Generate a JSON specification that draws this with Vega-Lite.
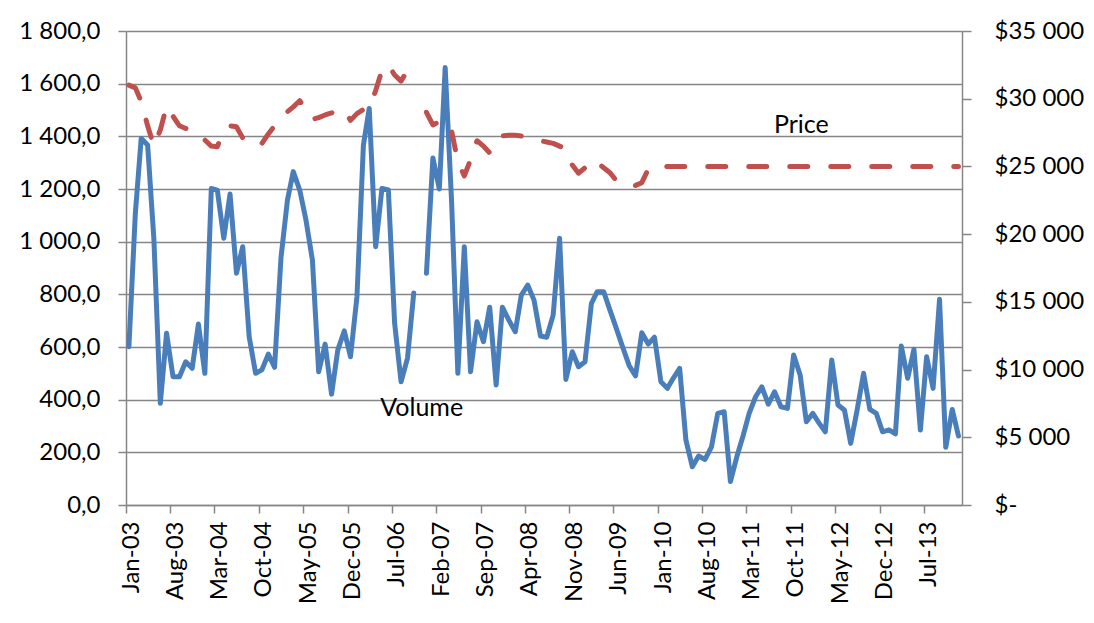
{
  "$schema": "https://vega.github.io/schema/vega-lite/v6.json",
  "width": 836,
  "height": 474,
  "autosize": {"type": "none"},
  "padding": {"left": 126, "top": 31, "right": 132, "bottom": 118},
  "background": "white",
  "config": {
    "locale": {"number": {"decimal": ",", "thousands": " ", "grouping": [3], "currency": ["$", ""]}},
    "view": {"stroke": null},
    "font": "Lato",
    "axis": {
      "labelFont": "Lato", "labelFontSize": 24, "labelColor": "#000000",
      "domainColor": "#868686", "tickColor": "#868686", "gridColor": "#868686",
      "domainWidth": 1.5, "tickWidth": 1.5, "gridWidth": 1.5, "title": null
    }
  },
  "datasets": {
    "m": [
      {"d":"2003-01-15","volume":601,"price":31000},{"d":"2003-02-15","volume":1109,"price":30800},{"d":"2003-03-15","volume":1392,"price":29800},{"d":"2003-04-15","volume":1367,"price":28000},{"d":"2003-05-15","volume":1010,"price":26500},{"d":"2003-06-15","volume":386,"price":27700},{"d":"2003-07-15","volume":652,"price":29460},{"d":"2003-08-15","volume":487,"price":28700},{"d":"2003-09-15","volume":487,"price":28000},{"d":"2003-10-15","volume":544,"price":27800},{"d":"2003-11-15","volume":519,"price":27700},{"d":"2003-12-15","volume":687,"price":27400},
      {"d":"2004-01-15","volume":500,"price":26950},{"d":"2004-02-15","volume":1202,"price":26500},{"d":"2004-03-15","volume":1196,"price":26460},{"d":"2004-04-15","volume":1013,"price":27690},{"d":"2004-05-15","volume":1181,"price":28000},{"d":"2004-06-15","volume":880,"price":27934},{"d":"2004-07-15","volume":981,"price":27100},{"d":"2004-08-15","volume":639,"price":26600},{"d":"2004-09-15","volume":500,"price":26700},{"d":"2004-10-15","volume":513,"price":26700},{"d":"2004-11-15","volume":573,"price":27400},{"d":"2004-12-15","volume":523,"price":28000},
      {"d":"2005-01-15","volume":940,"price":28600},{"d":"2005-02-15","volume":1158,"price":29043},{"d":"2005-03-15","volume":1266,"price":29400},{"d":"2005-04-15","volume":1196,"price":29850},{"d":"2005-05-15","volume":1082,"price":29200},{"d":"2005-06-15","volume":930,"price":28480},{"d":"2005-07-15","volume":506,"price":28600},{"d":"2005-08-15","volume":611,"price":28800},{"d":"2005-09-15","volume":421,"price":28950},{"d":"2005-10-15","volume":589,"price":29100},{"d":"2005-11-15","volume":661,"price":29200},{"d":"2005-12-15","volume":563,"price":28400},
      {"d":"2006-01-15","volume":791,"price":28900},{"d":"2006-02-15","volume":1367,"price":29200},{"d":"2006-03-15","volume":1506,"price":29300},{"d":"2006-04-15","volume":981,"price":30600},{"d":"2006-05-15","volume":1202,"price":32100},{"d":"2006-06-15","volume":1196,"price":32500},{"d":"2006-07-15","volume":691,"price":31750},{"d":"2006-08-15","volume":468,"price":31300},{"d":"2006-09-15","volume":558,"price":32100},{"d":"2006-10-15","volume":805,"price":33000},{"d":"2006-11-15","volume":null,"price":null},{"d":"2006-12-15","volume":880,"price":29000},
      {"d":"2007-01-15","volume":1318,"price":28060},{"d":"2007-02-15","volume":1200,"price":28300},{"d":"2007-03-15","volume":1661,"price":28400},{"d":"2007-04-15","volume":1150,"price":27600},{"d":"2007-05-15","volume":500,"price":25350},{"d":"2007-06-15","volume":981,"price":24300},{"d":"2007-07-15","volume":506,"price":25500},{"d":"2007-08-15","volume":696,"price":26900},{"d":"2007-09-15","volume":620,"price":26500},{"d":"2007-10-15","volume":751,"price":26000},{"d":"2007-11-15","volume":456,"price":26700},{"d":"2007-12-15","volume":751,"price":27250},
      {"d":"2008-01-15","volume":702,"price":27300},{"d":"2008-02-15","volume":658,"price":27300},{"d":"2008-03-15","volume":797,"price":27250},{"d":"2008-04-15","volume":835,"price":27100},{"d":"2008-05-15","volume":778,"price":27000},{"d":"2008-06-15","volume":642,"price":26900},{"d":"2008-07-15","volume":637,"price":26800},{"d":"2008-08-15","volume":721,"price":26700},{"d":"2008-09-15","volume":1013,"price":26500},{"d":"2008-10-15","volume":477,"price":26300},{"d":"2008-11-15","volume":582,"price":25100},{"d":"2008-12-15","volume":525,"price":24500},
      {"d":"2009-01-15","volume":544,"price":24900},{"d":"2009-02-15","volume":766,"price":25480},{"d":"2009-03-15","volume":810,"price":25300},{"d":"2009-04-15","volume":810,"price":24900},{"d":"2009-05-15","volume":740,"price":24540},{"d":"2009-06-15","volume":670,"price":23950},{"d":"2009-07-15","volume":600,"price":24000},{"d":"2009-08-15","volume":530,"price":23800},{"d":"2009-09-15","volume":490,"price":23600},{"d":"2009-10-15","volume":654,"price":23800},{"d":"2009-11-15","volume":611,"price":24800},{"d":"2009-12-15","volume":637,"price":25000},
      {"d":"2010-01-15","volume":468,"price":25000},{"d":"2010-02-15","volume":443,"price":25000},{"d":"2010-03-15","volume":481,"price":25000},{"d":"2010-04-15","volume":519,"price":25000},{"d":"2010-05-15","volume":247,"price":25000},{"d":"2010-06-15","volume":145,"price":25000},{"d":"2010-07-15","volume":186,"price":25000},{"d":"2010-08-15","volume":173,"price":25000},{"d":"2010-09-15","volume":221,"price":25000},{"d":"2010-10-15","volume":348,"price":25000},{"d":"2010-11-15","volume":354,"price":25000},{"d":"2010-12-15","volume":89,"price":25000},
      {"d":"2011-01-15","volume":184,"price":25000},{"d":"2011-02-15","volume":266,"price":25000},{"d":"2011-03-15","volume":348,"price":25000},{"d":"2011-04-15","volume":411,"price":25000},{"d":"2011-05-15","volume":449,"price":25000},{"d":"2011-06-15","volume":383,"price":25000},{"d":"2011-07-15","volume":430,"price":25000},{"d":"2011-08-15","volume":373,"price":25000},{"d":"2011-09-15","volume":367,"price":25000},{"d":"2011-10-15","volume":570,"price":25000},{"d":"2011-11-15","volume":494,"price":25000},{"d":"2011-12-15","volume":316,"price":25000},
      {"d":"2012-01-15","volume":348,"price":25000},{"d":"2012-02-15","volume":310,"price":25000},{"d":"2012-03-15","volume":278,"price":25000},{"d":"2012-04-15","volume":551,"price":25000},{"d":"2012-05-15","volume":380,"price":25000},{"d":"2012-06-15","volume":361,"price":25000},{"d":"2012-07-15","volume":234,"price":25000},{"d":"2012-08-15","volume":361,"price":25000},{"d":"2012-09-15","volume":500,"price":25000},{"d":"2012-10-15","volume":363,"price":25000},{"d":"2012-11-15","volume":348,"price":25000},{"d":"2012-12-15","volume":278,"price":25000},
      {"d":"2013-01-15","volume":285,"price":25000},{"d":"2013-02-15","volume":270,"price":25000},{"d":"2013-03-15","volume":604,"price":25000},{"d":"2013-04-15","volume":481,"price":25000},{"d":"2013-05-15","volume":591,"price":25000},{"d":"2013-06-15","volume":285,"price":25000},{"d":"2013-07-15","volume":563,"price":25000},{"d":"2013-08-15","volume":443,"price":25000},{"d":"2013-09-15","volume":781,"price":25000},{"d":"2013-10-15","volume":219,"price":25000},{"d":"2013-11-15","volume":363,"price":25000},{"d":"2013-12-15","volume":262,"price":25000}
    ],
    "notes": [
      {"d":"2011-11-21","v":1414,"label":"Price"},
      {"d":"2006-11-22","v":339,"label":"Volume"}
    ]
  },
  "layer": [
    {
      "data": {"name": "m"},
      "mark": {"type": "line", "color": "#4A7EBB", "strokeWidth": 5, "strokeJoin": "round", "strokeCap": "round", "invalid": "break-paths-show-domains"},
      "encoding": {
        "x": {
          "field": "d", "type": "temporal",
          "scale": {"type": "utc", "domain": [{"year": 2003, "month": 1, "date": 1, "utc": true}, {"year": 2014, "month": 1, "date": 1, "utc": true}]},
          "axis": {
            "labelExpr": "utcFormat(datum.value, '%b-%y')", "labelAngle": 270, "labelAlign": "right", "labelBaseline": "middle",
            "labelOffset": 5, "tickSize": 8, "labelPadding": 8, "grid": false, "labelFontSize": 24,
            "values": [
              {"year": 2003, "month": 1, "date": 1, "utc": true},
              {"year": 2003, "month": 8, "date": 1, "utc": true},
              {"year": 2004, "month": 3, "date": 1, "utc": true},
              {"year": 2004, "month": 10, "date": 1, "utc": true},
              {"year": 2005, "month": 5, "date": 1, "utc": true},
              {"year": 2005, "month": 12, "date": 1, "utc": true},
              {"year": 2006, "month": 7, "date": 1, "utc": true},
              {"year": 2007, "month": 2, "date": 1, "utc": true},
              {"year": 2007, "month": 9, "date": 1, "utc": true},
              {"year": 2008, "month": 4, "date": 1, "utc": true},
              {"year": 2008, "month": 11, "date": 1, "utc": true},
              {"year": 2009, "month": 6, "date": 1, "utc": true},
              {"year": 2010, "month": 1, "date": 1, "utc": true},
              {"year": 2010, "month": 8, "date": 1, "utc": true},
              {"year": 2011, "month": 3, "date": 1, "utc": true},
              {"year": 2011, "month": 10, "date": 1, "utc": true},
              {"year": 2012, "month": 5, "date": 1, "utc": true},
              {"year": 2012, "month": 12, "date": 1, "utc": true},
              {"year": 2013, "month": 7, "date": 1, "utc": true}
            ]
          }
        },
        "y": {
          "field": "volume", "type": "quantitative",
          "scale": {"domain": [0, 1800], "nice": false},
          "axis": {"orient": "left", "values": [0, 200, 400, 600, 800, 1000, 1200, 1400, 1600, 1800], "format": ",.1f", "grid": true, "tickSize": 8, "labelPadding": 18}
        }
      }
    },
    {
      "data": {"name": "m"},
      "mark": {"type": "line", "color": "#C0504D", "strokeWidth": 5, "strokeDash": [18, 23], "strokeCap": "round", "strokeJoin": "round", "invalid": "break-paths-show-domains"},
      "encoding": {
        "x": {"field": "d", "type": "temporal"},
        "y": {
          "field": "price", "type": "quantitative",
          "scale": {"domain": [0, 35000], "nice": false},
          "axis": {"orient": "right", "values": [0, 5000, 10000, 15000, 20000, 25000, 30000, 35000], "format": "$,.0f", "labelExpr": "datum.value == 0 ? '$-' : datum.label", "grid": false, "tickSize": 9, "labelPadding": 23}
        }
      }
    },
    {
      "data": {"name": "notes"},
      "mark": {"type": "text", "font": "Lato", "fontSize": 25, "color": "#000000", "align": "center", "baseline": "alphabetic"},
      "encoding": {
        "x": {"field": "d", "type": "temporal"},
        "y": {"field": "v", "type": "quantitative", "scale": {"domain": [0, 1800], "nice": false}, "axis": null},
        "text": {"field": "label"}
      }
    }
  ],
  "resolve": {"scale": {"y": "independent"}, "axis": {"y": "independent"}}
}
